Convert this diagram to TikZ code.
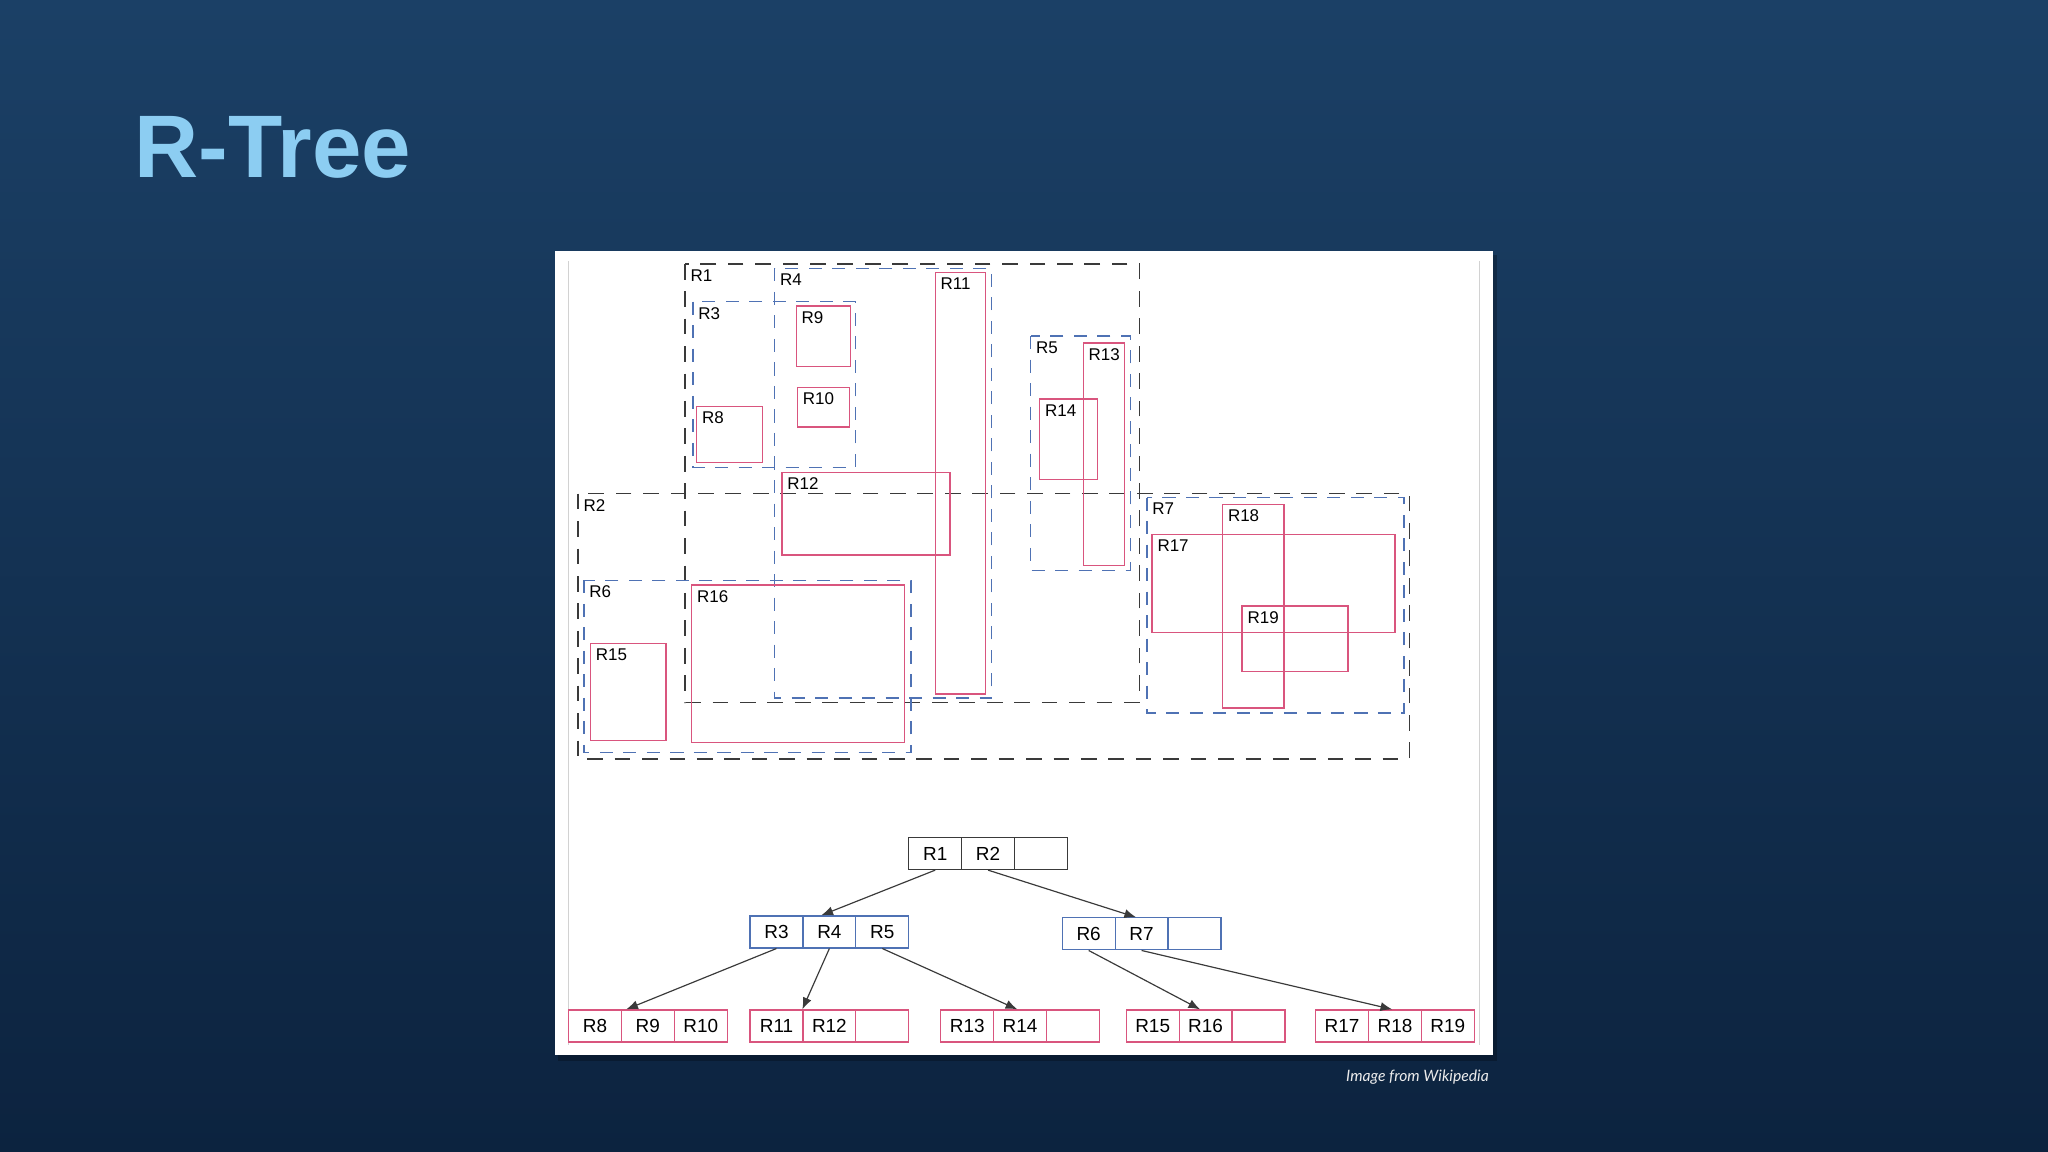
\documentclass[tikz,border=0pt]{standalone}
\usepackage{fontspec}
\setmainfont{Liberation Sans}
\newfontfamily\titlefont{Liberation Sans}
\newfontfamily\capfont{Lato}
\usetikzlibrary{calc,arrows.meta}
\definecolor{bgtop}{HTML}{1B4066}
\definecolor{bgbot}{HTML}{0C233F}
\definecolor{titleblue}{HTML}{8CCDF2}
\definecolor{pinkr}{HTML}{D9557E}
\definecolor{bluer}{HTML}{4F72B4}
\definecolor{darkr}{HTML}{3A3A3A}
\tikzset{
  blk/.style={draw=darkr,line width=1.1pt,dash pattern=on 12pt off 9pt},
  blu/.style={draw=bluer,line width=1.1pt,dash pattern=on 10pt off 8pt},
  pnk/.style={draw=pinkr,line width=1pt},
  lab/.style={anchor=north west,inner sep=0pt,font=\fontsize{13}{13}\selectfont,text=black},
  cell/.style={draw,minimum width=40.5pt,minimum height=24.5pt,inner sep=0pt,line width=0.9pt,font=\fontsize{14.5}{14}\selectfont,text=black},
  rootc/.style={cell,draw=darkr},
  midc/.style={cell,draw=bluer},
  leafc/.style={cell,draw=pinkr},
  arr/.style={-{Latex[length=9pt,width=7pt]},line width=0.9pt,draw=darkr}
}
\newcommand\rrect[7]{\draw[#1] (#2,#3) rectangle (#4,#5); \node[lab] (#7) at (#2+4,#3+4) {#6};}
\begin{document}
\begin{tikzpicture}[x=1pt,y=-1pt]
\useasboundingbox (0,0) rectangle (1568,882);
\shade[top color=bgtop,bottom color=bgbot] (0,0) rectangle (1568,882);
\node[anchor=base west,inner sep=0pt,text=titleblue,font=\titlefont\bfseries\fontsize{68}{68}\selectfont] (title) at (103,136) {R-Tree};
% panel
\fill[black,opacity=0.25] (427,195) rectangle (1146,812);
\fill[white] (425,192) rectangle (1143,808);
\draw[gray!35,line width=0.8pt] (435,200) -- (435,800);
\draw[gray!35,line width=0.8pt] (1133,200) -- (1133,800);
% black dashed
\rrect{blk}{524.6}{202}{872.4}{538}{R1}{lR1}
\rrect{blk}{442.6}{378}{1079}{581}{R2}{lR2}
% blue dashed
\rrect{blu}{530.5}{231}{655}{358}{R3}{lR3}
\rrect{blu}{593}{205.5}{759}{534.5}{R4}{lR4}
\rrect{blu}{789}{257.4}{865.4}{436.6}{R5}{lR5}
\rrect{blu}{447}{444.3}{697.5}{576}{R6}{lR6}
\rrect{blu}{878}{381}{1075}{546}{R7}{lR7}
% pink
\rrect{pnk}{533.4}{311}{584}{354}{R8}{lR8}
\rrect{pnk}{609.6}{234.4}{651}{280.5}{R9}{lR9}
\rrect{pnk}{610.5}{296.6}{650.6}{327}{R10}{lR10}
\rrect{pnk}{716}{208.5}{754.6}{531.4}{R11}{lR11}
\rrect{pnk}{598.7}{361.6}{727.4}{425}{R12}{lR12}
\rrect{pnk}{829.3}{262.6}{860.7}{433}{R13}{lR13}
\rrect{pnk}{796}{305.6}{840}{367}{R14}{lR14}
\rrect{pnk}{452}{492.7}{510}{567}{R15}{lR15}
\rrect{pnk}{529.6}{448}{692.5}{568.5}{R16}{lR16}
\rrect{pnk}{882}{409}{1068}{484}{R17}{lR17}
\rrect{pnk}{936}{386}{983}{542}{R18}{lR18}
\rrect{pnk}{951}{464}{1032}{514}{R19}{lR19}
% tree
\node[rootc] (t1) at (716,653.5) {R1};
\node[rootc] (t2) at (756.5,653.5) {R2};
\node[rootc] (t0) at (797,653.5) {};
\node[midc] (m3) at (594.5,713.5) {R3};
\node[midc] (m4) at (635,713.5) {R4};
\node[midc] (m5) at (675.5,713.5) {R5};
\node[midc] (m6) at (833.5,715) {R6};
\node[midc] (m7) at (874,715) {R7};
\node[midc] (m0) at (914.5,715) {};
\node[leafc] (a8) at (455.5,785.5) {R8};
\node[leafc] (a9) at (496,785.5) {R9};
\node[leafc] (a10) at (536.5,785.5) {R10};
\node[leafc] (b11) at (594.5,785.5) {R11};
\node[leafc] (b12) at (635,785.5) {R12};
\node[leafc] (b0) at (675.5,785.5) {};
\node[leafc] (c13) at (740.5,785.5) {R13};
\node[leafc] (c14) at (781,785.5) {R14};
\node[leafc] (c0) at (821.5,785.5) {};
\node[leafc] (d15) at (882.5,785.5) {R15};
\node[leafc] (d16) at (923,785.5) {R16};
\node[leafc] (d0) at (963.5,785.5) {};
\node[leafc] (e17) at (1027.5,785.5) {R17};
\node[leafc] (e18) at (1068,785.5) {R18};
\node[leafc] (e19) at (1108.5,785.5) {R19};
\draw[arr] (t1.south) -- ($(m4.north west)!0.35!(m4.north east)$);
\draw[arr] (t2.south) -- ($(m7.north west)!0.4!(m7.north east)$);
\draw[arr] (m3.south) -- ($(a9.north west)!0.1!(a9.north east)$);
\draw[arr] (m4.south) -- (b12.north west);
\draw[arr] (m5.south) -- ($(c14.north west)!0.45!(c14.north east)$);
\draw[arr] (m6.south) -- ($(d16.north west)!0.4!(d16.north east)$);
\draw[arr] (m7.south) -- ($(e18.north west)!0.45!(e18.north east)$);
\node[anchor=base east,inner sep=0pt,text=white!85!gray,font=\capfont\itshape\fontsize{12}{12}\selectfont] (cap) at (1140,828) {Image from Wikipedia};
\end{tikzpicture}
\end{document}
